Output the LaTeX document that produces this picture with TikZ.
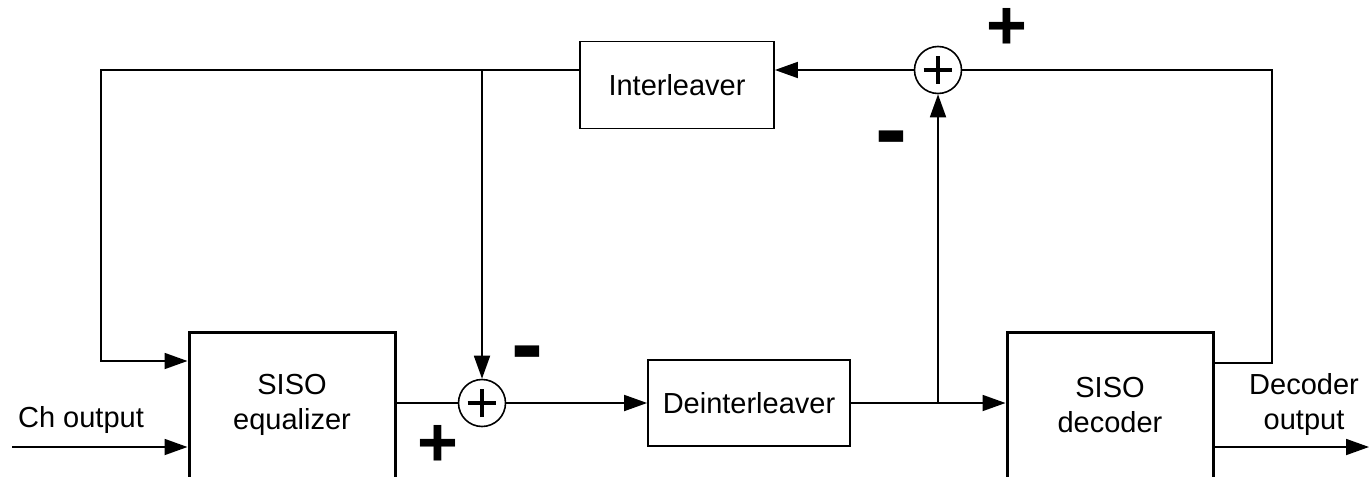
\documentclass[tikz,border=0pt]{standalone}
\usepackage{fontspec}
\setmainfont{Liberation Sans}
\usetikzlibrary{arrows.meta,calc}

\begin{document}
\begin{tikzpicture}[x=0.5pt, y=-0.5pt,
    every node/.style={font=\fontsize{14.5}{17.5}\selectfont},
    sig/.style={-{Triangle[length=11.5pt,width=8pt]}, line width=0.9pt},
    wire/.style={line width=0.9pt},
    bigblock/.style={draw, line width=1.5pt, minimum width=103pt, minimum height=73pt, align=center},
    block/.style={draw, line width=0.9pt, minimum width=101pt, minimum height=43pt, align=center},
    adder/.style={draw, circle, line width=0.8pt, minimum size=23.5pt, inner sep=0pt,
        path picture={\draw[line width=2.4pt]
            (path picture bounding box.center) ++(-7.2pt,0) -- ++(14.4pt,0)
            (path picture bounding box.center) ++(0,-7pt) -- ++(0,14pt);}},
    plussign/.style={font=\fontsize{35}{35}\selectfont\bfseries, inner sep=2pt},
    minussign/.style={font=\fontsize{48}{48}\selectfont\bfseries, inner sep=2pt}]
    \useasboundingbox (0,0) rectangle (1369,476);

    % --- blocks ---
    \node[bigblock] (eq) at (292,405) {SISO\\equalizer};
    \node[bigblock] (dec) at (1110,405) {SISO\\decoder};
    \node[block] (deint) at (749,403) {Deinterleaver};
    \node[block, minimum width=97pt, minimum height=43.5pt] (inter) at (677,85) {Interleaver};

    % --- adders ---
    \node[adder] (add1) at (482,403) {};
    \node[adder] (add2) at (938,70) {};

    % --- corners and taps ---
    \coordinate (chin) at (12,447);
    \coordinate (fbl) at (101,70);
    \coordinate (fbr) at (1272,70);
    \coordinate (tap) at (add2 |- deint);
    \coordinate (eqtop) at ($(eq.west)+(0,-44)$);
    \coordinate (dectop) at ($(dec.east)+(0,-42)$);
    \coordinate (decbot) at ($(dec.east)+(0,42)$);
    \coordinate (decout) at (1369,447);

    % --- forward path ---
    \draw[sig] (chin) -- (chin -| eq.west);
    \draw[wire] (eq.east |- add1) -- (add1.west);
    \draw[sig] (add1.east) -- (deint.west);
    \draw[sig] (deint.east) -- (deint.east -| dec.west);
    \draw[sig] (decbot) -- (decout);

    % --- feedback loop ---
    \draw[sig] (tap) -- (add2.south);
    \draw[wire] (dectop) -| (fbr) -- (add2.east);
    \draw[sig] (add2.west) -- (inter.east |- add2);
    \draw[sig] (inter.west |- add2) -- (fbl) |- (eqtop);
    \draw[sig] (add1 |- add2) -- (add1.north);

    % --- labels ---
    \node[anchor=base] (chlabel) at (81,427) {Ch output};
    \node[align=center] (outlabel) at (1304,404) {Decoder\\output};
    \node[plussign] (p2) at (1007,29) {+};
    \node[minussign] (m2) at (891,146) {-};
    \node[minussign] (m1) at (527,361) {-};
    \node[plussign] (p1) at (438,446) {+};
\end{tikzpicture}
\end{document}
